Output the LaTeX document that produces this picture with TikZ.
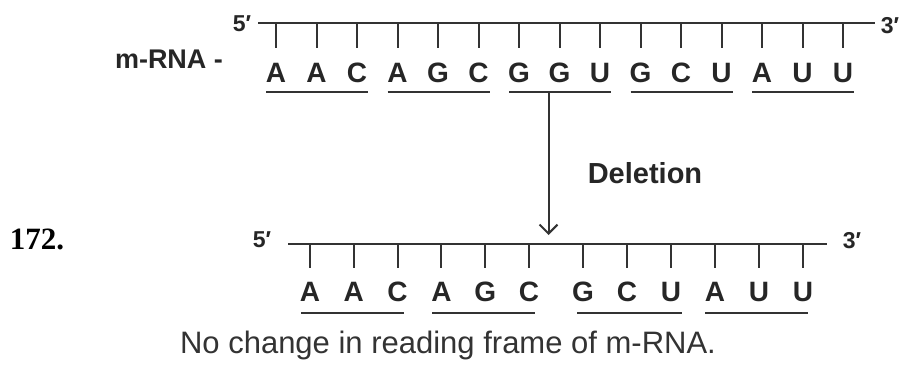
\documentclass[tikz,border=0pt]{standalone}
\usepackage{fontspec}
\setmainfont{Liberation Sans}
\newfontfamily\qnofont{Liberation Serif}
\usepackage{tikz}
\usetikzlibrary{positioning}
\usetikzlibrary{arrows.meta}

\tikzset{
  base/.style={inner sep=0pt, text=black!85, font=\fontsize{28}{28}\selectfont\bfseries},
  endlabel/.style={inner sep=0pt, text=black!85, font=\fontsize{23}{23}\selectfont\bfseries},
  strand/.style={line width=2pt, draw=black!80},
  codon/.style={line width=2.4pt, draw=black!80},
}

\begin{document}
\begin{tikzpicture}[x=1pt, y=-1pt]
				\useasboundingbox (0,0) rectangle (901,369);
				
				% original strand
				\coordinate (A5) at (258,23);
				\coordinate (A3) at (875,23);
				\node[endlabel] (p5) at (242,24) {5′};
				\node[endlabel] (p3) at (890,26) {3′};
				\node[base, font=\fontsize{27}{27}\selectfont\bfseries] (mrna) at (169,59) {m-RNA -};
				\draw[strand] (A5) -- (A3);
				\foreach \b [count=\i] in {A,A,C,A,G,C,G,G,U,G,C,U,A,U,U} {
					\node[base] (a\i) at ({276+40.5*(\i-1)},73) {\b};
					\draw[strand] (a\i |- A5) -- ++(0,25);
				}
				\draw[codon] ([shift={(-10,19)}]a1.center) -- ([shift={(11,19)}]a3.center);
				\draw[codon] ([shift={(-10,19)}]a4.center) -- ([shift={(11,19)}]a6.center);
				\draw[codon] ([shift={(-10,19)}]a7.center) -- ([shift={(11,19)}]a9.center);
				\draw[codon] ([shift={(-10,19)}]a10.center) -- ([shift={(11,19)}]a12.center);
				\draw[codon] ([shift={(-10,19)}]a13.center) -- ([shift={(11,19)}]a15.center);
				
				% mutated strand
				\coordinate (B5) at (288,244);
				\coordinate (B3) at (827,244);
				\node[endlabel] (q5) at (262,240) {5′};
				\node[endlabel] (q3) at (852,241) {3′};
				\draw[strand] (B5) -- (B3);
				\foreach \b [count=\i] in {A,A,C,A,G,C} {
					\node[base] (b\i) at ({310+43.8*(\i-1)},292) {\b};
					\draw[strand] (b\i |- B5) -- ++(0,24);
				}
				\foreach \b [count=\i from 7] in {G,C,U,A,U,U} {
					\node[base] (b\i) at ({583+44*(\i-7)},292) {\b};
					\draw[strand] (b\i |- B5) -- ++(0,24);
				}
				\draw[codon] ([shift={(-9,21)}]b1.center) -- ([shift={(6,21)}]b3.center);
				\draw[codon] ([shift={(-9,21)}]b4.center) -- ([shift={(6,21)}]b6.center);
				\draw[codon] ([shift={(-6,21)}]b7.center) -- ([shift={(11,21)}]b9.center);
				\draw[codon] ([shift={(-10,21)}]b10.center) -- ([shift={(5,21)}]b12.center);
				
				% deletion arrow
				\coordinate (del) at ([shift={(-11,19)}]a8.center);
				\coordinate (gap) at (del |- B5);
				\draw[line width=2pt, draw=black!80, -{Straight Barb[length=9pt, width=18pt, line width=2pt]}] (del) -- ([yshift=9pt]gap);
				\node[base, font=\fontsize{29}{29}\selectfont\bfseries] (dl) at (645,173) {Deletion};
				
				\node[inner sep=0pt, font=\qnofont\fontsize{31}{31}\selectfont\bfseries] (qno) at (37,239) {172.};
				\node[inner sep=0pt, text=black!80, font=\fontsize{31}{31}\selectfont] (note) at (448,345) {No change in reading frame of m-RNA.};
			\end{tikzpicture}
\end{document}
